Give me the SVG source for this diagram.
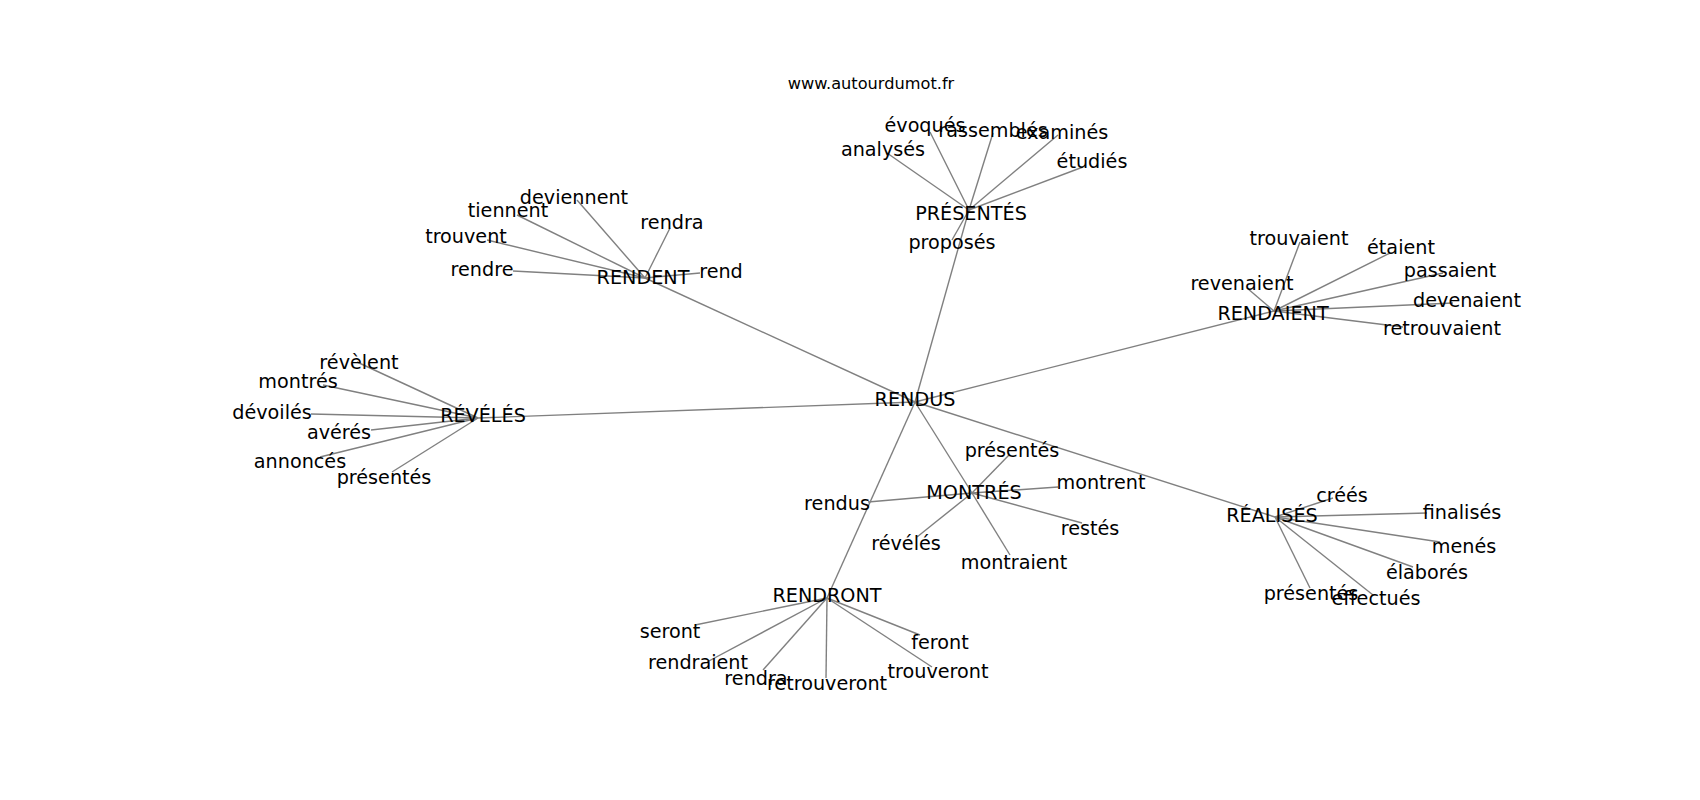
<svg xmlns="http://www.w3.org/2000/svg" width="1700" height="800" viewBox="0 0 1700 800">
<style>
.e{stroke:#808080;stroke-width:1.4;fill:none}
text{font-family:"DejaVu Sans",sans-serif;fill:#000;text-anchor:middle}
.n{font-size:19.2px}
.t{font-size:16.2px}
</style>
<rect width="1700" height="800" fill="#fff"/>
<text class="t" x="871" y="89">www.autourdumot.fr</text>
<g id="edges">
<line class="e" x1="915" y1="402" x2="969" y2="210"/>
<line class="e" x1="915" y1="402" x2="645" y2="278"/>
<line class="e" x1="915" y1="402" x2="1274" y2="311"/>
<line class="e" x1="915" y1="402" x2="478" y2="418"/>
<line class="e" x1="915" y1="402" x2="972" y2="493"/>
<line class="e" x1="915" y1="402" x2="1275" y2="517"/>
<line class="e" x1="915" y1="402" x2="827" y2="598"/>
<line class="e" x1="969" y1="210" x2="930" y2="132"/>
<line class="e" x1="969" y1="210" x2="993" y2="133"/>
<line class="e" x1="969" y1="210" x2="1058" y2="135"/>
<line class="e" x1="969" y1="210" x2="1083" y2="167"/>
<line class="e" x1="969" y1="210" x2="887" y2="153"/>
<line class="e" x1="969" y1="210" x2="952" y2="240"/>
<line class="e" x1="645" y1="278" x2="577" y2="200"/>
<line class="e" x1="645" y1="278" x2="517" y2="215"/>
<line class="e" x1="645" y1="278" x2="487" y2="240"/>
<line class="e" x1="645" y1="278" x2="513" y2="271"/>
<line class="e" x1="645" y1="278" x2="670" y2="228"/>
<line class="e" x1="645" y1="278" x2="700" y2="273"/>
<line class="e" x1="1274" y1="311" x2="1300" y2="242"/>
<line class="e" x1="1274" y1="311" x2="1390" y2="253"/>
<line class="e" x1="1274" y1="311" x2="1443" y2="273"/>
<line class="e" x1="1274" y1="311" x2="1453" y2="303"/>
<line class="e" x1="1274" y1="311" x2="1403" y2="327"/>
<line class="e" x1="1274" y1="311" x2="1247" y2="288"/>
<line class="e" x1="478" y1="418" x2="357" y2="362"/>
<line class="e" x1="478" y1="418" x2="323" y2="385"/>
<line class="e" x1="478" y1="418" x2="311" y2="414"/>
<line class="e" x1="478" y1="418" x2="371" y2="430"/>
<line class="e" x1="478" y1="418" x2="320" y2="457"/>
<line class="e" x1="478" y1="418" x2="392" y2="472"/>
<line class="e" x1="972" y1="493" x2="1009" y2="455"/>
<line class="e" x1="972" y1="493" x2="1058" y2="487"/>
<line class="e" x1="972" y1="493" x2="1082" y2="523"/>
<line class="e" x1="972" y1="493" x2="1010" y2="555"/>
<line class="e" x1="972" y1="493" x2="917" y2="537"/>
<line class="e" x1="972" y1="493" x2="868" y2="502"/>
<line class="e" x1="1275" y1="517" x2="1333" y2="498"/>
<line class="e" x1="1275" y1="517" x2="1427" y2="513"/>
<line class="e" x1="1275" y1="517" x2="1440" y2="542"/>
<line class="e" x1="1275" y1="517" x2="1413" y2="567"/>
<line class="e" x1="1275" y1="517" x2="1373" y2="595"/>
<line class="e" x1="1275" y1="517" x2="1310" y2="588"/>
<line class="e" x1="827" y1="598" x2="695" y2="625"/>
<line class="e" x1="827" y1="598" x2="707" y2="662"/>
<line class="e" x1="827" y1="598" x2="763" y2="670"/>
<line class="e" x1="827" y1="598" x2="826" y2="678"/>
<line class="e" x1="827" y1="598" x2="920" y2="635"/>
<line class="e" x1="827" y1="598" x2="932" y2="667"/>
</g>
<g id="n-rendus"><text class="n" x="915" y="406">RENDUS</text></g>
<g id="n-presentes"><text class="n" x="971" y="220">PRÉSENTÉS</text></g>
<g id="n-rendent"><text class="n" x="643" y="284">RENDENT</text></g>
<g id="n-rendaient"><text class="n" x="1273" y="320">RENDAIENT</text></g>
<g id="n-reveles"><text class="n" x="483" y="422">RÉVÉLÉS</text></g>
<g id="n-montres"><text class="n" x="974" y="499">MONTRÉS</text></g>
<g id="n-realises"><text class="n" x="1272" y="522">RÉALISÉS</text></g>
<g id="n-rendront"><text class="n" x="827" y="602">RENDRONT</text></g>
<g id="n-evoques"><text class="n" x="925" y="132">évoqués</text></g>
<g id="n-rassembles"><text class="n" x="993" y="137">rassemblés</text></g>
<g id="n-examines"><text class="n" x="1062" y="139">examinés</text></g>
<g id="n-etudies"><text class="n" x="1092" y="168">étudiés</text></g>
<g id="n-analyses"><text class="n" x="883" y="156">analysés</text></g>
<g id="n-proposes"><text class="n" x="952" y="249">proposés</text></g>
<g id="n-deviennent"><text class="n" x="574" y="204">deviennent</text></g>
<g id="n-tiennent"><text class="n" x="508" y="217">tiennent</text></g>
<g id="n-trouvent"><text class="n" x="466" y="243">trouvent</text></g>
<g id="n-rendre"><text class="n" x="482" y="276">rendre</text></g>
<g id="n-rendra1"><text class="n" x="672" y="229">rendra</text></g>
<g id="n-rend"><text class="n" x="721" y="278">rend</text></g>
<g id="n-trouvaient"><text class="n" x="1299" y="245">trouvaient</text></g>
<g id="n-etaient"><text class="n" x="1401" y="254">étaient</text></g>
<g id="n-passaient"><text class="n" x="1450" y="277">passaient</text></g>
<g id="n-devenaient"><text class="n" x="1467" y="307">devenaient</text></g>
<g id="n-retrouvaient"><text class="n" x="1442" y="335">retrouvaient</text></g>
<g id="n-revenaient"><text class="n" x="1242" y="290">revenaient</text></g>
<g id="n-revelent"><text class="n" x="359" y="369">révèlent</text></g>
<g id="n-montres2"><text class="n" x="298" y="388">montrés</text></g>
<g id="n-devoiles"><text class="n" x="272" y="419">dévoilés</text></g>
<g id="n-averes"><text class="n" x="339" y="439">avérés</text></g>
<g id="n-annonces"><text class="n" x="300" y="468">annoncés</text></g>
<g id="n-presentes2"><text class="n" x="384" y="484">présentés</text></g>
<g id="n-presentes3"><text class="n" x="1012" y="457">présentés</text></g>
<g id="n-montrent"><text class="n" x="1101" y="489">montrent</text></g>
<g id="n-restes"><text class="n" x="1090" y="535">restés</text></g>
<g id="n-montraient"><text class="n" x="1014" y="569">montraient</text></g>
<g id="n-reveles2"><text class="n" x="906" y="550">révélés</text></g>
<g id="n-rendus2"><text class="n" x="837" y="510">rendus</text></g>
<g id="n-crees"><text class="n" x="1342" y="502">créés</text></g>
<g id="n-finalises"><text class="n" x="1462" y="519">finalisés</text></g>
<g id="n-menes"><text class="n" x="1464" y="553">menés</text></g>
<g id="n-elabores"><text class="n" x="1427" y="579">élaborés</text></g>
<g id="n-effectues"><text class="n" x="1376" y="605">effectués</text></g>
<g id="n-presentes4"><text class="n" x="1311" y="600">présentés</text></g>
<g id="n-seront"><text class="n" x="670" y="638">seront</text></g>
<g id="n-rendraient"><text class="n" x="698" y="669">rendraient</text></g>
<g id="n-rendra2"><text class="n" x="756" y="685">rendra</text></g>
<g id="n-retrouveront"><text class="n" x="827" y="690">retrouveront</text></g>
<g id="n-feront"><text class="n" x="940" y="649">feront</text></g>
<g id="n-trouveront"><text class="n" x="938" y="678">trouveront</text></g>
</svg>
